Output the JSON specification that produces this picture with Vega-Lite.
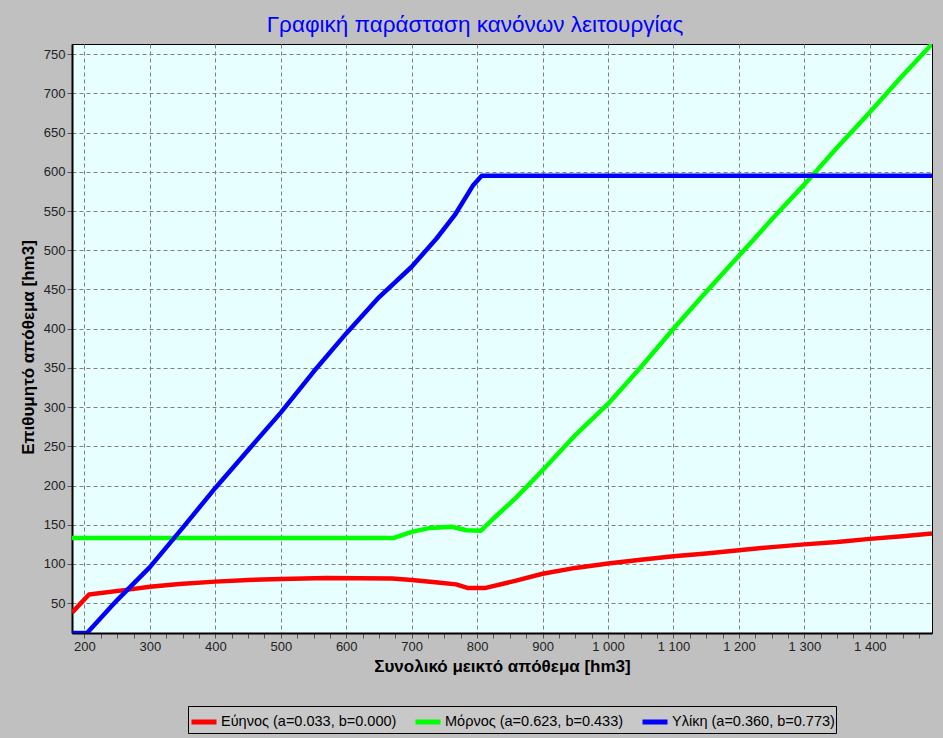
{
  "$schema": "https://vega.github.io/schema/vega-lite/v6.json",
  "width": 860,
  "height": 589,
  "autosize": {"type": "none"},
  "padding": {"left": 72, "top": 44, "right": 11, "bottom": 105},
  "background": "#c0c0c0",
  "title": {
    "text": "Γραφική παράσταση κανόνων λειτουργίας",
    "color": "#0000ff",
    "font": "Liberation Sans",
    "fontSize": 22.5,
    "fontWeight": "normal",
    "anchor": "middle",
    "dx": -27,
    "offset": 8
  },
  "data": {
    "values": [
      {"s": "Εύηνος (a=0.033, b=0.000)", "x": 181, "y": 38},
      {"s": "Εύηνος (a=0.033, b=0.000)", "x": 207, "y": 61},
      {"s": "Εύηνος (a=0.033, b=0.000)", "x": 264, "y": 67},
      {"s": "Εύηνος (a=0.033, b=0.000)", "x": 300, "y": 71},
      {"s": "Εύηνος (a=0.033, b=0.000)", "x": 345, "y": 74.5},
      {"s": "Εύηνος (a=0.033, b=0.000)", "x": 400, "y": 77.5},
      {"s": "Εύηνος (a=0.033, b=0.000)", "x": 450, "y": 79.7},
      {"s": "Εύηνος (a=0.033, b=0.000)", "x": 500, "y": 81},
      {"s": "Εύηνος (a=0.033, b=0.000)", "x": 570, "y": 82},
      {"s": "Εύηνος (a=0.033, b=0.000)", "x": 670, "y": 81.5},
      {"s": "Εύηνος (a=0.033, b=0.000)", "x": 700, "y": 79.5},
      {"s": "Εύηνος (a=0.033, b=0.000)", "x": 740, "y": 76.5},
      {"s": "Εύηνος (a=0.033, b=0.000)", "x": 768, "y": 74},
      {"s": "Εύηνος (a=0.033, b=0.000)", "x": 785, "y": 69.5},
      {"s": "Εύηνος (a=0.033, b=0.000)", "x": 813, "y": 69.5},
      {"s": "Εύηνος (a=0.033, b=0.000)", "x": 858, "y": 78.5},
      {"s": "Εύηνος (a=0.033, b=0.000)", "x": 900, "y": 87.5},
      {"s": "Εύηνος (a=0.033, b=0.000)", "x": 950, "y": 95},
      {"s": "Εύηνος (a=0.033, b=0.000)", "x": 1000, "y": 100.5},
      {"s": "Εύηνος (a=0.033, b=0.000)", "x": 1050, "y": 105.5},
      {"s": "Εύηνος (a=0.033, b=0.000)", "x": 1100, "y": 110},
      {"s": "Εύηνος (a=0.033, b=0.000)", "x": 1150, "y": 113.5},
      {"s": "Εύηνος (a=0.033, b=0.000)", "x": 1200, "y": 117.5},
      {"s": "Εύηνος (a=0.033, b=0.000)", "x": 1250, "y": 121.5},
      {"s": "Εύηνος (a=0.033, b=0.000)", "x": 1300, "y": 125},
      {"s": "Εύηνος (a=0.033, b=0.000)", "x": 1350, "y": 128},
      {"s": "Εύηνος (a=0.033, b=0.000)", "x": 1400, "y": 132},
      {"s": "Εύηνος (a=0.033, b=0.000)", "x": 1450, "y": 135.5},
      {"s": "Εύηνος (a=0.033, b=0.000)", "x": 1495, "y": 139},
      {"s": "Μόρνος (a=0.623, b=0.433)", "x": 181, "y": 133},
      {"s": "Μόρνος (a=0.623, b=0.433)", "x": 672, "y": 133},
      {"s": "Μόρνος (a=0.623, b=0.433)", "x": 700, "y": 141},
      {"s": "Μόρνος (a=0.623, b=0.433)", "x": 728, "y": 146},
      {"s": "Μόρνος (a=0.623, b=0.433)", "x": 761, "y": 147.5},
      {"s": "Μόρνος (a=0.623, b=0.433)", "x": 784, "y": 143},
      {"s": "Μόρνος (a=0.623, b=0.433)", "x": 806, "y": 142.5},
      {"s": "Μόρνος (a=0.623, b=0.433)", "x": 825, "y": 158},
      {"s": "Μόρνος (a=0.623, b=0.433)", "x": 860, "y": 185},
      {"s": "Μόρνος (a=0.623, b=0.433)", "x": 900, "y": 219.5},
      {"s": "Μόρνος (a=0.623, b=0.433)", "x": 952, "y": 266},
      {"s": "Μόρνος (a=0.623, b=0.433)", "x": 1000, "y": 304},
      {"s": "Μόρνος (a=0.623, b=0.433)", "x": 1049, "y": 350},
      {"s": "Μόρνος (a=0.623, b=0.433)", "x": 1100, "y": 400},
      {"s": "Μόρνος (a=0.623, b=0.433)", "x": 1150, "y": 447},
      {"s": "Μόρνος (a=0.623, b=0.433)", "x": 1200, "y": 493},
      {"s": "Μόρνος (a=0.623, b=0.433)", "x": 1252, "y": 541},
      {"s": "Μόρνος (a=0.623, b=0.433)", "x": 1300, "y": 584},
      {"s": "Μόρνος (a=0.623, b=0.433)", "x": 1349, "y": 630},
      {"s": "Μόρνος (a=0.623, b=0.433)", "x": 1400, "y": 676},
      {"s": "Μόρνος (a=0.623, b=0.433)", "x": 1446, "y": 719},
      {"s": "Μόρνος (a=0.623, b=0.433)", "x": 1495, "y": 763},
      {"s": "Υλίκη (a=0.360, b=0.773)", "x": 181, "y": 12},
      {"s": "Υλίκη (a=0.360, b=0.773)", "x": 204, "y": 12},
      {"s": "Υλίκη (a=0.360, b=0.773)", "x": 250, "y": 54},
      {"s": "Υλίκη (a=0.360, b=0.773)", "x": 300, "y": 96},
      {"s": "Υλίκη (a=0.360, b=0.773)", "x": 350, "y": 146},
      {"s": "Υλίκη (a=0.360, b=0.773)", "x": 400, "y": 197},
      {"s": "Υλίκη (a=0.360, b=0.773)", "x": 450, "y": 245},
      {"s": "Υλίκη (a=0.360, b=0.773)", "x": 500, "y": 293},
      {"s": "Υλίκη (a=0.360, b=0.773)", "x": 550, "y": 345},
      {"s": "Υλίκη (a=0.360, b=0.773)", "x": 600, "y": 394},
      {"s": "Υλίκη (a=0.360, b=0.773)", "x": 650, "y": 440},
      {"s": "Υλίκη (a=0.360, b=0.773)", "x": 700, "y": 479},
      {"s": "Υλίκη (a=0.360, b=0.773)", "x": 738, "y": 515},
      {"s": "Υλίκη (a=0.360, b=0.773)", "x": 766, "y": 545},
      {"s": "Υλίκη (a=0.360, b=0.773)", "x": 794, "y": 583},
      {"s": "Υλίκη (a=0.360, b=0.773)", "x": 807, "y": 595},
      {"s": "Υλίκη (a=0.360, b=0.773)", "x": 1495, "y": 595}
    ]
  },
  "mark": {"type": "line", "strokeWidth": 4.5, "strokeJoin": "round", "strokeCap": "butt", "clip": true},
  "encoding": {
    "x": {
      "field": "x",
      "type": "quantitative",
      "scale": {"domain": [181, 1495], "nice": false, "zero": false},
      "axis": {
        "title": "Συνολικό μεικτό απόθεμα [hm3]",
        "values": [200,225,250,275,300,325,350,375,400,425,450,475,500,525,550,575,600,625,650,675,700,725,750,775,800,825,850,875,900,925,950,975,1000,1025,1050,1075,1100,1125,1150,1175,1200,1225,1250,1275,1300,1325,1350,1375,1400,1425,1450,1475],
        "labelExpr": "datum.value % 100 === 0 ? replace(format(datum.value, ','), ',', ' ') : ''",
        "gridOpacity": {"condition": {"test": "datum.value % 100 === 0", "value": 1}, "value": 0},
        "labelOverlap": false,
        "labelFlush": false,
        "titlePadding": 5
      }
    },
    "y": {
      "field": "y",
      "type": "quantitative",
      "scale": {"domain": [12, 763], "nice": false, "zero": false},
      "axis": {
        "title": "Επιθυμητό απόθεμα [hm3]",
        "values": [50,100,150,200,250,300,350,400,450,500,550,600,650,700,750],
        "labelOverlap": false,
        "labelFlush": false,
        "titlePadding": 6,
        "titleY": 303
      }
    },
    "color": {
      "field": "s",
      "type": "nominal",
      "scale": {
        "domain": ["Εύηνος (a=0.033, b=0.000)", "Μόρνος (a=0.623, b=0.433)", "Υλίκη (a=0.360, b=0.773)"],
        "range": ["#ff0000", "#00ff00", "#0000ff"]
      },
      "legend": {
        "title": null,
        "orient": "none",
        "legendX": 116,
        "legendY": 662,
        "direction": "horizontal",
        "columns": 3
      }
    }
  },
  "config": {
    "view": {"fill": "#e8ffff", "stroke": "#000000", "strokeWidth": 1},
    "axis": {
      "grid": true,
      "gridColor": "#808080",
      "gridDash": [4, 3],
      "gridWidth": 1,
      "domainColor": "#000000",
      "domainWidth": 2,
      "tickColor": "#555555",
      "tickSize": 5,
      "labelFont": "Liberation Sans",
      "labelFontSize": 13,
      "labelColor": "#222222",
      "labelPadding": 2,
      "titleFont": "Liberation Sans",
      "titleFontSize": 17,
      "titleFontWeight": "bold",
      "titleColor": "#000000"
    },
    "legend": {
      "fillColor": "#c8c8c8",
      "strokeColor": "#000000",
      "padding": 1,
      "symbolType": "stroke",
      "symbolStrokeWidth": 5,
      "symbolSize": 625,
      "labelFont": "Liberation Sans",
      "labelFontSize": 14.5,
      "labelColor": "#000000",
      "labelLimit": 400,
      "columnPadding": 8,
      "labelOffset": 2
    }
  }
}
